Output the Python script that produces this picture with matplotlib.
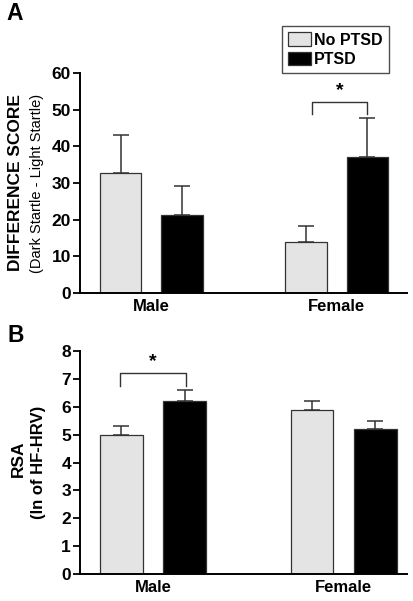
import matplotlib
matplotlib.use("Agg")
import matplotlib.pyplot as plt
import numpy as np

plt.rcParams['font.family'] = ['Liberation Sans', 'DejaVu Sans']
plt.rcParams['font.weight'] = 'bold'

groups = ["Male", "Female"]
series = ["No PTSD", "PTSD"]

# Panel A: difference score
a_mean_no = [32.8, 13.9]
a_err_no = [10.3, 4.5]
a_mean_pt = [21.3, 37.1]
a_err_pt = [7.8, 10.5]

# Panel B: RSA
b_mean_no = [5.0, 5.9]
b_err_no = [0.3, 0.3]
b_mean_pt = [6.2, 5.2]
b_err_pt = [0.4, 0.3]

colors = ["#e4e4e4", "#000000"]

fig = plt.figure(figsize=(4.14, 6.01), dpi=100)
A_pos = [0.1932, 0.5125, 0.790, 0.366]
B_pos = [0.1932, 0.0449, 0.790, 0.371]
axA = fig.add_axes(A_pos)
axB = fig.add_axes(B_pos)

width = 0.224
off = 0.166


def draw(ax, mno, eno, mpt, ept, xlim):
    x = np.arange(len(groups))
    for i, (m, e) in enumerate([(mno, eno), (mpt, ept)]):
        pos = x + (-off if i == 0 else off)
        ax.bar(pos, m, width, color=colors[i], edgecolor="#333333",
               linewidth=0.9, label=series[i], zorder=2)
        ax.errorbar(pos, m, yerr=[np.zeros(len(e)), e], fmt="none",
                    ecolor="#333333", elinewidth=1.1, capsize=5.8,
                    capthick=1.1, zorder=1)
    ax.set_xlim(*xlim)
    ax.set_xticks(x)
    ax.set_xticklabels(groups, fontsize=12, fontweight="bold")
    ax.tick_params(axis="x", length=0, pad=4)
    ax.tick_params(axis="y", length=5, width=1.3, labelsize=12.5, pad=1.5)
    for lab in ax.get_yticklabels():
        lab.set_fontweight("bold")
    for s in ["top", "right"]:
        ax.spines[s].set_visible(False)
    for s in ["left", "bottom"]:
        ax.spines[s].set_linewidth(1.4)


def bracket(ax, x0, x1, y, leg, star_y):
    ax.plot([x0, x0, x1, x1], [y - leg, y, y, y - leg], color="#333333", lw=1.0)
    ax.text((x0 + x1) / 2, star_y, "*", ha="center", va="center",
            fontsize=14, fontweight="bold")


draw(axA, a_mean_no, a_err_no, a_mean_pt, a_err_pt, (-0.386, 1.381))
axA.set_ylim(0, 60)
axA.set_yticks(np.arange(0, 61, 10))
ya = A_pos[1] + A_pos[3] / 2
fig.text(16 / 414, ya, "DIFFERENCE SCORE", rotation=90, ha="center",
         va="center", fontsize=12.5, fontweight="bold")
fig.text(37 / 414, ya, "(Dark Startle - Light Startle)", rotation=90,
         ha="center", va="center", fontsize=10.5, fontweight="normal")
bracket(axA, 0.868, 1.166, 52.1, 3.4, 55.3)

draw(axB, b_mean_no, b_err_no, b_mean_pt, b_err_pt, (-0.383, 1.333))
axB.set_ylim(0, 8)
axB.set_yticks(np.arange(0, 9, 1))
yb = B_pos[1] + B_pos[3] / 2
fig.text(18 / 414, yb + 0.006, "RSA", rotation=90, ha="center",
         va="center", fontsize=12.5, fontweight="bold")
fig.text(38 / 414, yb, "(ln of HF-HRV)", rotation=90, ha="center",
         va="center", fontsize=12, fontweight="bold")
bracket(axB, -0.173, 0.173, 7.23, 0.48, 7.62)

leg = axA.legend(loc="upper left", bbox_to_anchor=(282 / 414, 1 - 26 / 601),
                 bbox_transform=fig.transFigure, frameon=True, fancybox=False,
                 edgecolor="#222222", prop={"weight": "bold", "size": 11.5},
                 handlelength=1.4, handleheight=0.9, handletextpad=0.2,
                 labelspacing=0.25, borderpad=0.4, borderaxespad=0)
leg.get_frame().set_linewidth(1.0)

fig.text(15 / 414, 1 - 13 / 601, "A", ha="center", va="center", fontsize=16.5,
         fontweight="bold")
fig.text(16 / 414, 1 - 336 / 601, "B", ha="center", va="center", fontsize=16.5,
         fontweight="bold")

fig.savefig("out.png", dpi=100)
